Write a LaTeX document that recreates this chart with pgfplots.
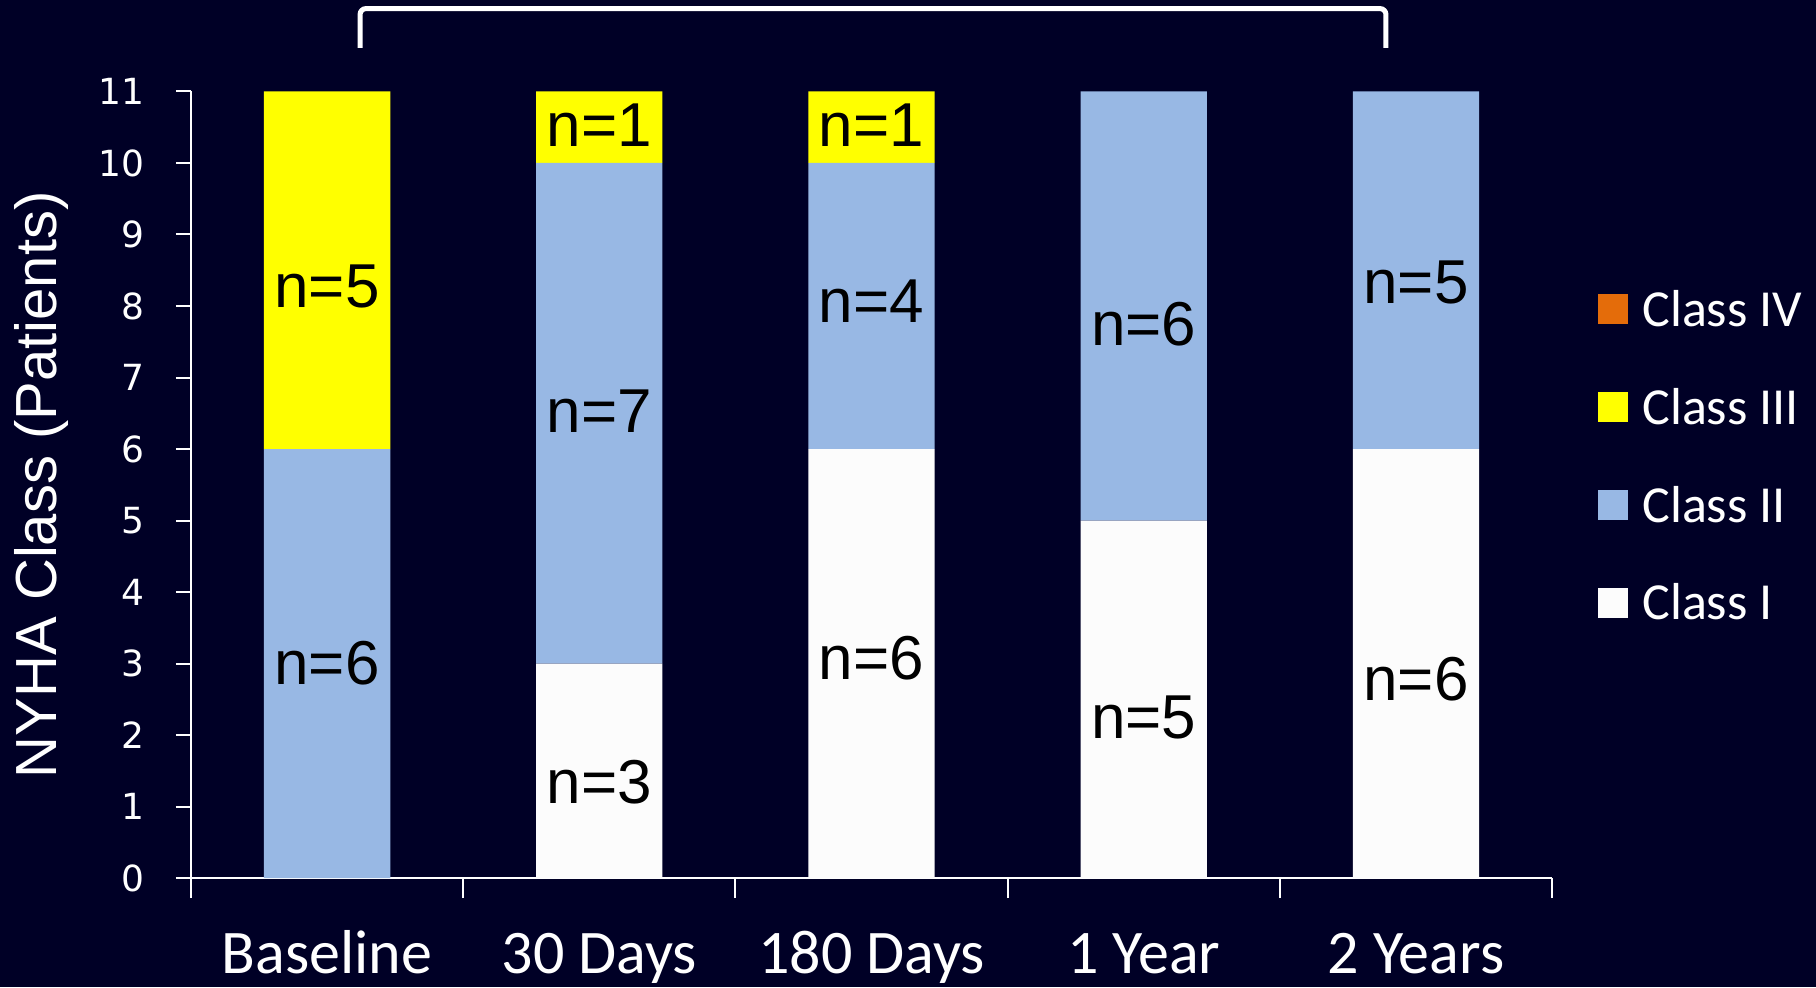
\documentclass[border=0pt]{standalone}
\usepackage{pgfplots}
\pgfplotsset{compat=1.18}
\usepackage{fontspec}
\setmainfont{Liberation Sans}
\newfontfamily\calibri{Carlito}
\newfontfamily\dejavu{DejaVu Sans}
\definecolor{bg}{RGB}{0,0,38}
\definecolor{classI}{RGB}{252,252,252}
\definecolor{classII}{RGB}{152,184,228}
\definecolor{classIII}{RGB}{255,255,0}
\definecolor{classIV}{RGB}{228,108,10}
\tikzset{nlabel/.style={font=\fontsize{31}{31}\selectfont, text=black, anchor=center}}

\begin{document}
\begin{tikzpicture}[x=1pt,y=1pt]
\fill[bg] (0,0) rectangle (908,493.5);
\begin{axis}[
  at={(95.5pt,54.5pt)}, anchor=south west,
  scale only axis, width=680.5pt, height=393.25pt,
  ybar stacked, bar width=0.464,
  xmin=-0.5, xmax=4.5, ymin=0, ymax=11,
  axis x line*=bottom, axis y line*=left,
  axis line style={white, line width=1pt},
  tick align=outside,
  xtick={0,1,2,3,4},
  xticklabels={Baseline,30 Days,180 Days,1 Year,2 Years},
  major x tick style={draw=none},
  minor xtick={-0.5,0.5,1.5,2.5,3.5,4.5},
  minor tick length=10pt,
  minor x tick style={white, line width=1pt},
  ytick={0,1,...,11},
  major tick length=7.5pt,
  major y tick style={white, line width=1pt},
  /pgf/number format/assume math mode=true,
  xticklabel style={font=\calibri\fontsize{31}{31}\selectfont, text=white, anchor=base, yshift=-40pt},
  yticklabel style={font=\dejavu\fontsize{18}{18}\selectfont, text=white, anchor=east, xshift=-12.5pt},
  ylabel={NYHA Class (Patients)},
  every axis y label/.style={at={(axis description cs:-0.1099,0.5)}, rotate=90, anchor=center,
    font=\fontsize{29}{29}\selectfont, text=white},
  clip=false,
  reverse legend,
  legend cell align=left,
  legend style={at={(axis description cs:1.0338,0.7476)}, anchor=north west,
    draw=none, fill=none, text=white, inner sep=0pt, row sep=30.9pt,
    font=\calibri\fontsize{26}{26}\selectfont,
    nodes={inner sep=0pt, text height=18pt, text depth=0pt}},
  legend image code/.code={\path[#1] (0pt,-8pt) rectangle (15pt,7pt); \path (22pt,0pt);},
]
% Class I at the bottom of each stack
\addplot[fill=classI, draw=none] coordinates {(0,0) (1,3) (2,6) (3,5) (4,6)};
\addlegendentry{Class I}
\addplot[fill=classII, draw=none] coordinates {(0,6) (1,7) (2,4) (3,6) (4,5)};
\addlegendentry{Class II}
\addplot[fill=classIII, draw=none] coordinates {(0,5) (1,1) (2,1) (3,0) (4,0)};
\addlegendentry{Class III}
\addplot[fill=classIV, draw=none] coordinates {(0,0) (1,0) (2,0) (3,0) (4,0)};
\addlegendentry{Class IV}

% anchor points for the segment counts
\coordinate (a1) at (axis cs:0,8.28);
\coordinate (a2) at (axis cs:0,3.01);
\coordinate (b1) at (axis cs:1,10.53);
\coordinate (b2) at (axis cs:1,6.53);
\coordinate (b3) at (axis cs:1,1.34);
\coordinate (c1) at (axis cs:2,10.53);
\coordinate (c2) at (axis cs:2,8.07);
\coordinate (c3) at (axis cs:2,3.08);
\coordinate (d1) at (axis cs:3,7.74);
\coordinate (d2) at (axis cs:3,2.24);
\coordinate (e1) at (axis cs:4,8.33);
\coordinate (e2) at (axis cs:4,2.78);

% bracket spanning the follow-up period
\draw[white, line width=2.5pt, rounded corners=3pt]
  (axis cs:0.121,11.61) -- (axis cs:0.121,12.16) -- (axis cs:3.89,12.16) -- (axis cs:3.89,11.61);
\end{axis}
% segment counts, set above the bars
\node[nlabel] at (a1) {n=5};
\node[nlabel] at (a2) {n=6};
\node[nlabel] at (b1) {n=1};
\node[nlabel] at (b2) {n=7};
\node[nlabel] at (b3) {n=3};
\node[nlabel] at (c1) {n=1};
\node[nlabel] at (c2) {n=4};
\node[nlabel] at (c3) {n=6};
\node[nlabel] at (d1) {n=6};
\node[nlabel] at (d2) {n=5};
\node[nlabel] at (e1) {n=5};
\node[nlabel] at (e2) {n=6};
\pgfresetboundingbox
\path (0,0) rectangle (908,493.5);
\end{tikzpicture}
\end{document}
